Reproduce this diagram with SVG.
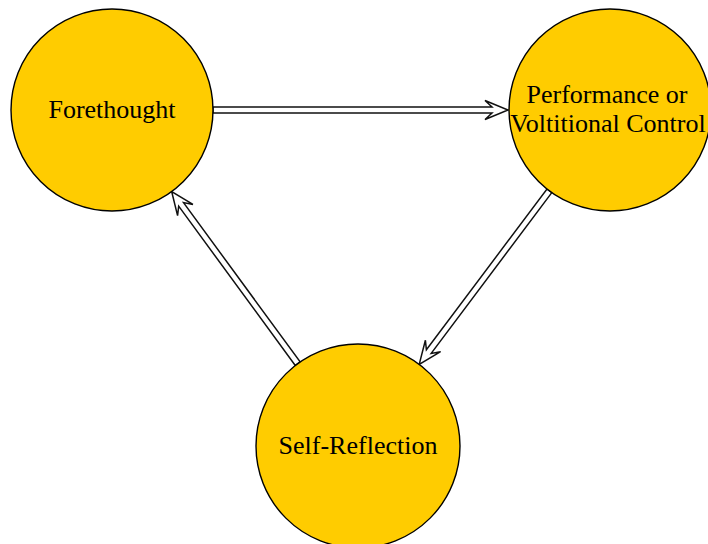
<svg xmlns="http://www.w3.org/2000/svg" width="708" height="544" viewBox="0 0 708 544">
<style>
.node{fill:#FFCC00;stroke:#000;stroke-width:1.4}
.lbl{font-family:"Liberation Serif","Times New Roman",serif;font-size:26px;fill:#000;text-anchor:middle}
.arrow{fill:#fff;stroke:#111;stroke-width:1.5;stroke-linejoin:miter}
</style>
<rect width="708" height="544" fill="#fff"/>
<g id="connectors">
<g id="e1" transform="translate(213,110)"><polygon class="arrow" points="0,-3 279,-3 272,-9.5 295,0 272,9.5 279,3 0,3"/></g>
<g id="e2" transform="translate(549.4,190.8) rotate(126.87)"><polygon class="arrow" points="0,-3 201,-3 194,-9.5 217,0 194,9.5 201,3 0,3"/></g>
<g id="e3" transform="translate(297.7,363.7) rotate(233.8)"><polygon class="arrow" points="0,-3 197.4,-3 190.4,-9.5 213.4,0 190.4,9.5 197.4,3 0,3"/></g>
</g>
<g id="forethought">
<circle class="node" cx="112" cy="110" r="101"/>
<text class="lbl" x="112" y="118">Forethought</text>
</g>
<g id="performance">
<circle class="node" cx="610" cy="110" r="101"/>
<text class="lbl" x="607" y="103">Performance or</text>
<text class="lbl" x="608" y="132">Voltitional Control</text>
</g>
<g id="self-reflection">
<circle class="node" cx="358" cy="446" r="102"/>
<text class="lbl" x="358" y="454">Self-Reflection</text>
</g>
</svg>
